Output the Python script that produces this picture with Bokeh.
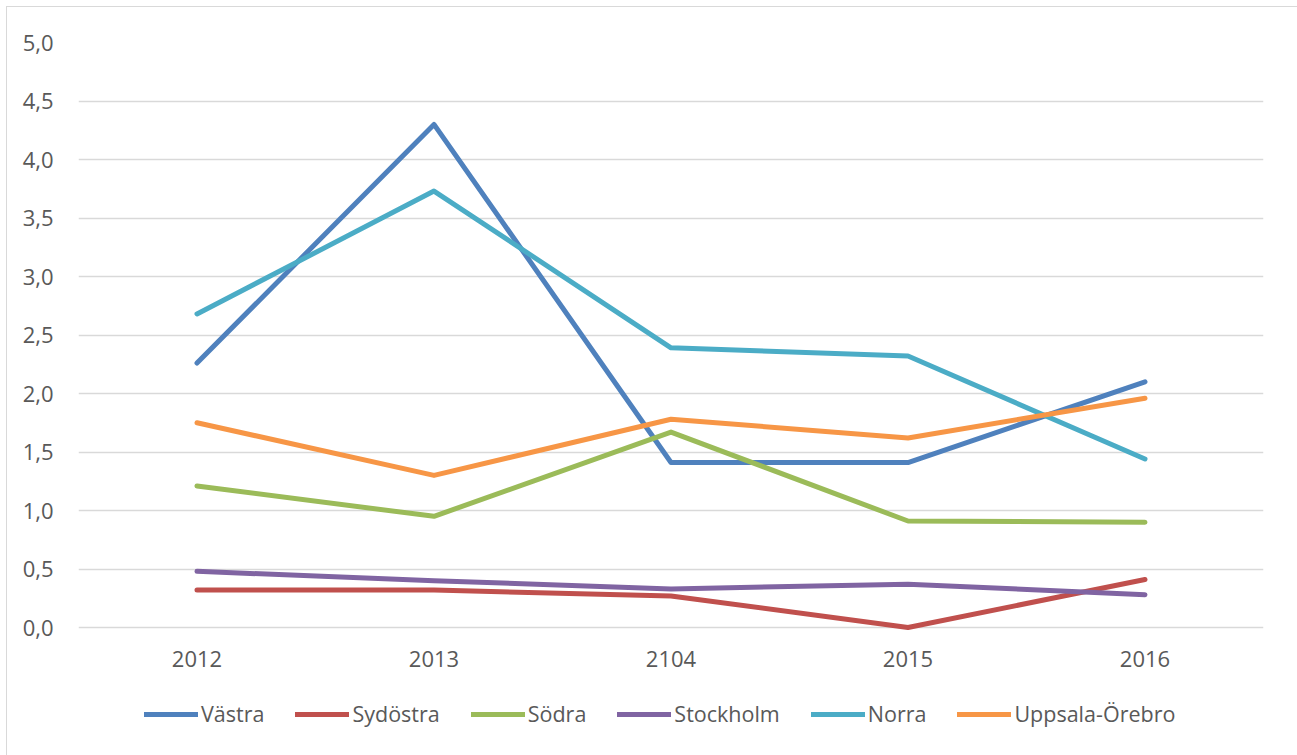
from bokeh.plotting import figure
from bokeh.models import FactorRange, Range1d, CustomJSTickFormatter, Legend, LegendItem, FixedTicker
from bokeh.core.properties import value
from bokeh.embed import file_html
from bokeh.resources import INLINE

years = ["2012", "2013", "2104", "2015", "2016"]
vastra = [2.26, 4.30, 1.41, 1.41, 2.10]
sydostra = [0.32, 0.32, 0.27, 0.00, 0.41]
sodra = [1.21, 0.95, 1.67, 0.91, 0.90]
stockholm = [0.48, 0.40, 0.33, 0.37, 0.28]
norra = [2.68, 3.73, 2.39, 2.32, 1.44]
uppsala = [1.75, 1.30, 1.78, 1.62, 1.96]
y_ticks = [0.0, 0.5, 1.0, 1.5, 2.0, 2.5, 3.0, 3.5, 4.0, 4.5, 5.0]

series = [
    ("Västra", vastra, "#4F81BD"),
    ("Sydöstra", sydostra, "#C0504D"),
    ("Södra", sodra, "#9BBB59"),
    ("Stockholm", stockholm, "#8064A2"),
    ("Norra", norra, "#4BACC6"),
    ("Uppsala-Örebro", uppsala, "#F79646"),
]

FONT = "Open Sans"
TXT = "#595959"
FS = "22px"

p = figure(x_range=FactorRange(*years), y_range=Range1d(-1.0, 5),
           frame_width=1185, frame_height=702,
           output_backend="svg", toolbar_location=None,
           min_border_left=71, min_border_right=35, min_border_top=35, min_border_bottom=12)
p.outline_line_color = None
p.styles = {"border": "1px solid #d9d9d9", "box-sizing": "border-box",
            "margin-left": "6px", "margin-top": "6px"}

p.xaxis.visible = False
p.xgrid.grid_line_color = None
p.ygrid.grid_line_color = "#d9d9d9"
p.ygrid.grid_line_width = 1.5
p.yaxis.ticker = FixedTicker(ticks=y_ticks)
p.yaxis.formatter = CustomJSTickFormatter(code="return tick.toFixed(1).replace('.', ',');")
ax = p.yaxis
ax.axis_line_color = None
ax.major_tick_line_color = None
ax.minor_tick_line_color = None
ax.major_tick_out = 0
ax.major_tick_in = 0
ax.major_label_text_font = FONT
ax.major_label_text_font_size = FS
ax.major_label_text_color = TXT
ax.major_label_standoff = 25

# category labels under the zero line
p.text(x=years, y=0, text=years, text_align="center", text_baseline="middle",
       y_offset=31, text_font=value(FONT), text_font_size=value(FS), text_color=TXT)

items = []
for name, vals, col in series:
    r = p.line(years, vals, line_color=col, line_width=5, line_cap="round", line_join="round")
    items.append(LegendItem(label=name, renderers=[r]))

legend = Legend(items=items, orientation="horizontal", location=(66, 16),
                label_text_font=FONT, label_text_font_size="21.5px", label_text_color=TXT,
                glyph_width=54, glyph_height=20, label_standoff=3, spacing=31,
                padding=0, margin=0, border_line_color=None, background_fill_alpha=0)
p.add_layout(legend, "center")

open("out.html", "w").write(file_html(p, INLINE))
